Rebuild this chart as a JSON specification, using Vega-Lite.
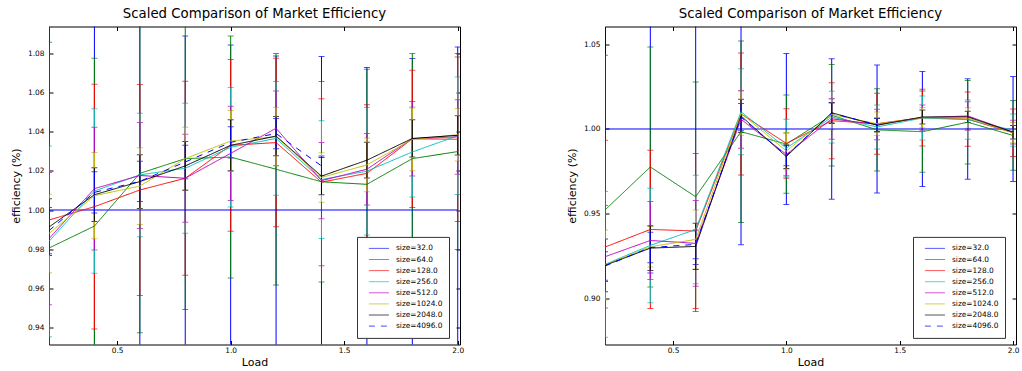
{
  "$schema": "https://vega.github.io/schema/vega-lite/v6.json",
  "background": "white",
  "padding": {"left": 10, "top": 5.5, "right": 0, "bottom": 0},
  "config": {
    "font": "DejaVu Sans",
    "view": {"stroke": "#000", "strokeWidth": 1},
    "axis": {
      "grid": false, "domain": false, "tickColor": "#000", "tickSize": -4, "tickWidth": 1,
      "labelColor": "#000", "labelFontSize": 7.4, "labelFont": "DejaVu Sans",
      "titleFont": "DejaVu Sans", "titleFontSize": 11, "titleFontWeight": "normal", "titleColor": "#000"
    },
    "title": {"font": "DejaVu Sans", "fontSize": 13.3, "fontWeight": "normal", "color": "#000", "offset": 6, "anchor": "middle"},
    "legend": {
      "orient": "none", "legendX": 308, "legendY": 210.4, "title": null,
      "symbolType": "stroke", "symbolSize": 400, "symbolStrokeWidth": 1,
      "clipHeight": 11, "rowPadding": 0.1, "padding": 6, "symbolOffset": 5.4, "labelOffset": 6.6,
      "fillColor": "white", "strokeColor": "#333",
      "labelFontSize": 7.4, "labelFont": "DejaVu Sans", "labelColor": "#000"
    }
  },
  "datasets": {
    "L": [
      {"s":"size=32.0","x":0.2,"m":1.0,"e":0.1},{"s":"size=32.0","x":0.4,"m":1.0,"e":0.11},{"s":"size=32.0","x":0.6,"m":1.0,"e":0.105},{"s":"size=32.0","x":0.8,"m":1.0,"e":0.0888},{"s":"size=32.0","x":1.0,"m":1.0,"e":0.0842},{"s":"size=32.0","x":1.2,"m":1.0,"e":0.0786},{"s":"size=32.0","x":1.4,"m":1.0,"e":0.0783},{"s":"size=32.0","x":1.6,"m":1.0,"e":0.0727},{"s":"size=32.0","x":1.8,"m":1.0,"e":0.0773},{"s":"size=32.0","x":2.0,"m":1.0,"e":0.0832},
      {"s":"size=64.0","x":0.2,"m":0.9806,"e":0.105},{"s":"size=64.0","x":0.4,"m":0.9918,"e":0.0856},{"s":"size=64.0","x":0.6,"m":1.0187,"e":0.0813},{"s":"size=64.0","x":0.8,"m":1.0262,"e":0.077},{"s":"size=64.0","x":1.0,"m":1.027,"e":0.0617},{"s":"size=64.0","x":1.2,"m":1.0208,"e":0.059},{"s":"size=64.0","x":1.4,"m":1.0144,"e":0.0511},{"s":"size=64.0","x":1.6,"m":1.0131,"e":0.0587},{"s":"size=64.0","x":1.8,"m":1.0262,"e":0.0536},{"s":"size=64.0","x":2.0,"m":1.0298,"e":0.05},
      {"s":"size=128.0","x":0.2,"m":0.9949,"e":0.105},{"s":"size=128.0","x":0.4,"m":1.0017,"e":0.0624},{"s":"size=128.0","x":0.6,"m":1.0102,"e":0.0538},{"s":"size=128.0","x":0.8,"m":1.0162,"e":0.0495},{"s":"size=128.0","x":1.0,"m":1.033,"e":0.0438},{"s":"size=128.0","x":1.2,"m":1.0344,"e":0.043},{"s":"size=128.0","x":1.4,"m":1.0142,"e":0.0426},{"s":"size=128.0","x":1.6,"m":1.0187,"e":0.035},{"s":"size=128.0","x":1.8,"m":1.0363,"e":0.035},{"s":"size=128.0","x":2.0,"m":1.0361,"e":0.042},
      {"s":"size=256.0","x":0.2,"m":0.984,"e":0.0487},{"s":"size=256.0","x":0.4,"m":1.0097,"e":0.042},{"s":"size=256.0","x":0.6,"m":1.0179,"e":0.0315},{"s":"size=256.0","x":0.8,"m":1.0213,"e":0.0332},{"s":"size=256.0","x":1.0,"m":1.032,"e":0.0305},{"s":"size=256.0","x":1.2,"m":1.0365,"e":0.029},{"s":"size=256.0","x":1.4,"m":1.0155,"e":0.03},{"s":"size=256.0","x":1.6,"m":1.0198,"e":0.0325},{"s":"size=256.0","x":1.8,"m":1.0296,"e":0.023},{"s":"size=256.0","x":2.0,"m":1.0379,"e":0.03},
      {"s":"size=512.0","x":0.2,"m":0.9854,"e":0.0337},{"s":"size=512.0","x":0.4,"m":1.0109,"e":0.0313},{"s":"size=512.0","x":0.6,"m":1.0176,"e":0.027},{"s":"size=512.0","x":0.8,"m":1.0162,"e":0.0224},{"s":"size=512.0","x":1.0,"m":1.0289,"e":0.024},{"s":"size=512.0","x":1.2,"m":1.0417,"e":0.019},{"s":"size=512.0","x":1.4,"m":1.015,"e":0.0194},{"s":"size=512.0","x":1.6,"m":1.0208,"e":0.0182},{"s":"size=512.0","x":1.8,"m":1.0364,"e":0.019},{"s":"size=512.0","x":2.0,"m":1.0373,"e":0.019},
      {"s":"size=1024.0","x":0.2,"m":0.988,"e":0.02},{"s":"size=1024.0","x":0.4,"m":1.0073,"e":0.022},{"s":"size=1024.0","x":0.6,"m":1.0122,"e":0.0196},{"s":"size=1024.0","x":0.8,"m":1.0262,"e":0.016},{"s":"size=1024.0","x":1.0,"m":1.0352,"e":0.0156},{"s":"size=1024.0","x":1.2,"m":1.0374,"e":0.015},{"s":"size=1024.0","x":1.4,"m":1.0166,"e":0.0126},{"s":"size=1024.0","x":1.6,"m":1.023,"e":0.0137},{"s":"size=1024.0","x":1.8,"m":1.036,"e":0.016},{"s":"size=1024.0","x":2.0,"m":1.0384,"e":0.0134},
      {"s":"size=2048.0","x":0.2,"m":0.9913,"e":0.0145},{"s":"size=2048.0","x":0.4,"m":1.0078,"e":0.0137},{"s":"size=2048.0","x":0.6,"m":1.0145,"e":0.0137},{"s":"size=2048.0","x":0.8,"m":1.0225,"e":0.0124},{"s":"size=2048.0","x":1.0,"m":1.033,"e":0.013},{"s":"size=2048.0","x":1.2,"m":1.0377,"e":0.01},{"s":"size=2048.0","x":1.4,"m":1.0173,"e":0.0095},{"s":"size=2048.0","x":1.6,"m":1.0254,"e":0.0091},{"s":"size=2048.0","x":1.8,"m":1.0365,"e":0.0095},{"s":"size=2048.0","x":2.0,"m":1.0381,"e":0.01},
      {"s":"size=4096.0","x":0.2,"m":0.9895,"e":0.0118},{"s":"size=4096.0","x":0.4,"m":1.009,"e":0.0105},{"s":"size=4096.0","x":0.6,"m":1.0146,"e":0.0103},{"s":"size=4096.0","x":0.8,"m":1.0245,"e":0.0085},{"s":"size=4096.0","x":1.0,"m":1.0345,"e":0.008},{"s":"size=4096.0","x":1.2,"m":1.039,"e":0.0077},{"s":"size=4096.0","x":1.4,"m":1.0225,"e":0.005}
    ],
    "R": [
      {"s":"size=32.0","x":0.2,"m":1.0,"e":0.09},{"s":"size=32.0","x":0.4,"m":1.0,"e":0.085},{"s":"size=32.0","x":0.6,"m":1.0,"e":0.08},{"s":"size=32.0","x":0.8,"m":1.0,"e":0.0683},{"s":"size=32.0","x":1.0,"m":1.0,"e":0.0446},{"s":"size=32.0","x":1.2,"m":1.0,"e":0.0414},{"s":"size=32.0","x":1.4,"m":1.0,"e":0.0378},{"s":"size=32.0","x":1.6,"m":1.0,"e":0.034},{"s":"size=32.0","x":1.8,"m":1.0,"e":0.0296},{"s":"size=32.0","x":2.0,"m":1.0,"e":0.031},
      {"s":"size=64.0","x":0.2,"m":0.9522,"e":0.0913},{"s":"size=64.0","x":0.4,"m":0.9776,"e":0.0708},{"s":"size=64.0","x":0.6,"m":0.96,"e":0.0677},{"s":"size=64.0","x":0.8,"m":0.9984,"e":0.0536},{"s":"size=64.0","x":1.0,"m":0.9911,"e":0.029},{"s":"size=64.0","x":1.2,"m":1.0081,"e":0.03},{"s":"size=64.0","x":1.4,"m":0.9995,"e":0.0243},{"s":"size=64.0","x":1.6,"m":0.9984,"e":0.024},{"s":"size=64.0","x":1.8,"m":1.004,"e":0.0247},{"s":"size=64.0","x":2.0,"m":0.9962,"e":0.0206},
      {"s":"size=128.0","x":0.2,"m":0.9303,"e":0.063},{"s":"size=128.0","x":0.4,"m":0.9407,"e":0.0467},{"s":"size=128.0","x":0.6,"m":0.9398,"e":0.0458},{"s":"size=128.0","x":0.8,"m":1.0089,"e":0.036},{"s":"size=128.0","x":1.0,"m":0.9915,"e":0.0205},{"s":"size=128.0","x":1.2,"m":1.0049,"e":0.0224},{"s":"size=128.0","x":1.4,"m":1.0031,"e":0.018},{"s":"size=128.0","x":1.6,"m":1.0067,"e":0.0167},{"s":"size=128.0","x":1.8,"m":1.0058,"e":0.016},{"s":"size=128.0","x":2.0,"m":0.9978,"e":0.014},
      {"s":"size=256.0","x":0.2,"m":0.9201,"e":0.043},{"s":"size=256.0","x":0.4,"m":0.9313,"e":0.0338},{"s":"size=256.0","x":0.6,"m":0.9407,"e":0.032},{"s":"size=256.0","x":0.8,"m":1.0102,"e":0.0254},{"s":"size=256.0","x":1.0,"m":0.9887,"e":0.017},{"s":"size=256.0","x":1.2,"m":1.007,"e":0.0153},{"s":"size=256.0","x":1.4,"m":1.0012,"e":0.013},{"s":"size=256.0","x":1.6,"m":1.0065,"e":0.013},{"s":"size=256.0","x":1.8,"m":1.0055,"e":0.0116},{"s":"size=256.0","x":2.0,"m":0.9993,"e":0.0095},
      {"s":"size=512.0","x":0.2,"m":0.9246,"e":0.0303},{"s":"size=512.0","x":0.4,"m":0.9342,"e":0.023},{"s":"size=512.0","x":0.6,"m":0.9325,"e":0.0253},{"s":"size=512.0","x":0.8,"m":1.0057,"e":0.017},{"s":"size=512.0","x":1.0,"m":0.985,"e":0.0126},{"s":"size=512.0","x":1.2,"m":1.006,"e":0.012},{"s":"size=512.0","x":1.4,"m":1.0027,"e":0.009},{"s":"size=512.0","x":1.6,"m":1.0067,"e":0.0075},{"s":"size=512.0","x":1.8,"m":1.0077,"e":0.0084},{"s":"size=512.0","x":2.0,"m":0.9982,"e":0.007},
      {"s":"size=1024.0","x":0.2,"m":0.9197,"e":0.0207},{"s":"size=1024.0","x":0.4,"m":0.9305,"e":0.012},{"s":"size=1024.0","x":0.6,"m":0.9348,"e":0.0174},{"s":"size=1024.0","x":0.8,"m":1.0093,"e":0.013},{"s":"size=1024.0","x":1.0,"m":0.987,"e":0.011},{"s":"size=1024.0","x":1.2,"m":1.0085,"e":0.009},{"s":"size=1024.0","x":1.4,"m":1.0031,"e":0.007},{"s":"size=1024.0","x":1.6,"m":1.0067,"e":0.006},{"s":"size=1024.0","x":1.8,"m":1.0065,"e":0.006},{"s":"size=1024.0","x":2.0,"m":0.9978,"e":0.006},
      {"s":"size=2048.0","x":0.2,"m":0.9195,"e":0.0155},{"s":"size=2048.0","x":0.4,"m":0.9297,"e":0.0132},{"s":"size=2048.0","x":0.6,"m":0.9307,"e":0.0137},{"s":"size=2048.0","x":0.8,"m":1.0077,"e":0.0098},{"s":"size=2048.0","x":1.0,"m":0.9837,"e":0.007},{"s":"size=2048.0","x":1.2,"m":1.0096,"e":0.006},{"s":"size=2048.0","x":1.4,"m":1.0022,"e":0.004},{"s":"size=2048.0","x":1.6,"m":1.0071,"e":0.0041},{"s":"size=2048.0","x":1.8,"m":1.0072,"e":0.0033},{"s":"size=2048.0","x":2.0,"m":0.9981,"e":0.004},
      {"s":"size=4096.0","x":0.2,"m":0.9191,"e":0.0084},{"s":"size=4096.0","x":0.4,"m":0.93,"e":0.009},{"s":"size=4096.0","x":0.6,"m":0.9319,"e":0.0085},{"s":"size=4096.0","x":0.8,"m":1.007,"e":0.008},{"s":"size=4096.0","x":1.0,"m":0.9843,"e":0.006},{"s":"size=4096.0","x":1.2,"m":1.0093,"e":0.006},{"s":"size=4096.0","x":1.4,"m":1.0025,"e":0.004}
    ]
  },
  "spacing": 101,
  "resolve": {"scale": {"color": "independent", "strokeDash": "independent"}},
  "hconcat": [
    {
      "title": "Scaled Comparison of Market Efficiency",
      "width": 411, "height": 318,
      "data": {"name": "L"},
      "resolve": {"scale": {"x": "independent", "y": "independent"}},
      "layer": [
        {
          "mark": {"type": "errorbar", "clip": true, "thickness": 1, "ticks": {"size": 6, "thickness": 1}},
          "encoding": {
            "x": {"field": "x", "type": "quantitative", "scale": {"domain": [0.2, 2.01], "nice": false, "zero": false},
                  "axis": {"orient": "bottom", "values": [0.5, 1, 1.5, 2], "format": ".1f", "title": "Load", "labelPadding": 6, "titlePadding": 3}},
            "y": {"field": "m", "type": "quantitative", "scale": {"domain": [0.9314, 1.0936], "nice": false, "zero": false},
                  "axis": {"orient": "left", "values": [0.94, 0.96, 0.98, 1.0, 1.02, 1.04, 1.06, 1.08], "format": ".2f", "title": "efficiency (%)", "labelPadding": 9, "titlePadding": 6}},
            "yError": {"field": "e"},
            "color": {"field": "s", "type": "nominal",
                      "scale": {"domain": ["size=32.0","size=64.0","size=128.0","size=256.0","size=512.0","size=1024.0","size=2048.0","size=4096.0"],
                                "range": ["#0000ff","#008000","#ff0000","#00bfbf","#bf00bf","#bfbf00","#000000","#0000ff"]}}
          }
        },
        {
          "mark": {"type": "line", "clip": true, "strokeWidth": 1},
          "encoding": {
            "x": {"field": "x", "type": "quantitative", "scale": {"domain": [0.2, 2.01], "nice": false, "zero": false},
                  "axis": {"orient": "top", "values": [0.5, 1, 1.5, 2], "labels": false, "title": null}},
            "y": {"field": "m", "type": "quantitative", "scale": {"domain": [0.9314, 1.0936], "nice": false, "zero": false},
                  "axis": {"orient": "right", "values": [0.94, 0.96, 0.98, 1.0, 1.02, 1.04, 1.06, 1.08], "labels": false, "title": null}},
            "color": {"field": "s", "type": "nominal",
                      "scale": {"domain": ["size=32.0","size=64.0","size=128.0","size=256.0","size=512.0","size=1024.0","size=2048.0","size=4096.0"],
                                "range": ["#0000ff","#008000","#ff0000","#00bfbf","#bf00bf","#bfbf00","#000000","#0000ff"]}},
            "strokeDash": {"field": "s", "type": "nominal",
                           "scale": {"domain": ["size=32.0","size=64.0","size=128.0","size=256.0","size=512.0","size=1024.0","size=2048.0","size=4096.0"],
                                     "range": [[1,0],[1,0],[1,0],[1,0],[1,0],[1,0],[1,0],[6,6]]}}
          }
        }
      ]
    },
    {
      "title": "Scaled Comparison of Market Efficiency",
      "width": 411, "height": 318,
      "data": {"name": "R"},
      "resolve": {"scale": {"x": "independent", "y": "independent"}},
      "layer": [
        {
          "mark": {"type": "errorbar", "clip": true, "thickness": 1, "ticks": {"size": 6, "thickness": 1}},
          "encoding": {
            "x": {"field": "x", "type": "quantitative", "scale": {"domain": [0.2, 2.013], "nice": false, "zero": false},
                  "axis": {"orient": "bottom", "values": [0.5, 1, 1.5, 2], "format": ".1f", "title": "Load", "labelPadding": 6, "titlePadding": 3}},
            "y": {"field": "m", "type": "quantitative", "scale": {"domain": [0.8728, 1.0605], "nice": false, "zero": false},
                  "axis": {"orient": "left", "values": [0.9, 0.95, 1.0, 1.05], "format": ".2f", "title": "efficiency (%)", "labelPadding": 9, "titlePadding": 6}},
            "yError": {"field": "e"},
            "color": {"field": "s", "type": "nominal",
                      "scale": {"domain": ["size=32.0","size=64.0","size=128.0","size=256.0","size=512.0","size=1024.0","size=2048.0","size=4096.0"],
                                "range": ["#0000ff","#008000","#ff0000","#00bfbf","#bf00bf","#bfbf00","#000000","#0000ff"]}}
          }
        },
        {
          "mark": {"type": "line", "clip": true, "strokeWidth": 1},
          "encoding": {
            "x": {"field": "x", "type": "quantitative", "scale": {"domain": [0.2, 2.013], "nice": false, "zero": false},
                  "axis": {"orient": "top", "values": [0.5, 1, 1.5, 2], "labels": false, "title": null}},
            "y": {"field": "m", "type": "quantitative", "scale": {"domain": [0.8728, 1.0605], "nice": false, "zero": false},
                  "axis": {"orient": "right", "values": [0.9, 0.95, 1.0, 1.05], "labels": false, "title": null}},
            "color": {"field": "s", "type": "nominal",
                      "scale": {"domain": ["size=32.0","size=64.0","size=128.0","size=256.0","size=512.0","size=1024.0","size=2048.0","size=4096.0"],
                                "range": ["#0000ff","#008000","#ff0000","#00bfbf","#bf00bf","#bfbf00","#000000","#0000ff"]}},
            "strokeDash": {"field": "s", "type": "nominal",
                           "scale": {"domain": ["size=32.0","size=64.0","size=128.0","size=256.0","size=512.0","size=1024.0","size=2048.0","size=4096.0"],
                                     "range": [[1,0],[1,0],[1,0],[1,0],[1,0],[1,0],[1,0],[6,6]]}}
          }
        }
      ]
    }
  ]
}
